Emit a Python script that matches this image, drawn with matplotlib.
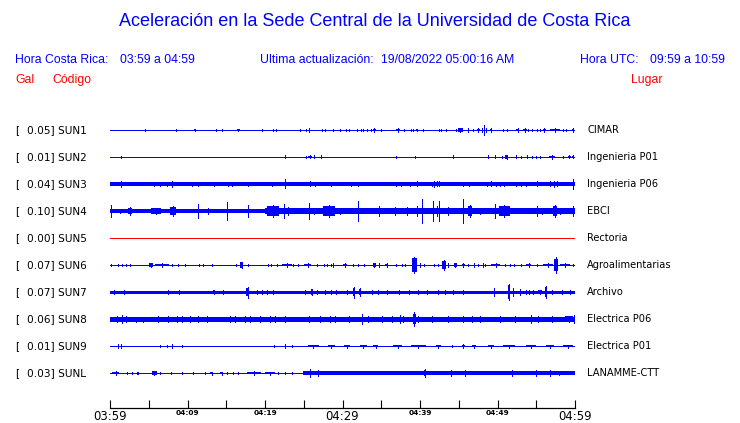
import matplotlib
matplotlib.use("Agg")
import matplotlib.pyplot as plt

# ---------------- data ----------------
stations = ["SUN1", "SUN2", "SUN3", "SUN4", "SUN5", "SUN6", "SUN7", "SUN8", "SUN9", "SUNL"]
gal_max = [0.05, 0.01, 0.04, 0.10, 0.00, 0.07, 0.07, 0.06, 0.01, 0.03]
places = ["CIMAR", "Ingenieria P01", "Ingenieria P06", "EBCI", "Rectoria",
          "Agroalimentarias", "Archivo", "Electrica P06", "Electrica P01", "LANAMME-CTT"]
tick_minutes = list(range(0, 61, 5))
tick_labels = ["03:59", "", "04:09", "", "04:19", "", "04:29", "", "04:39", "", "04:49", "", "04:59"]

# background band of each trace: (start minute, end minute, half amplitude)
base_sun1 = [(0, 60, 0.5)]
base_sun2 = [(0, 60, 0.5)]
base_sun3 = [(0, 60, 2.0)]
base_sun4 = [(0, 20, 1.2), (20, 60, 2.2)]
base_sun5 = [(0, 60, 0.5)]
base_sun6 = [(0, 60, 0.5)]
base_sun7 = [(0, 60, 1.4)]
base_sun8 = [(0, 60, 2.3)]
base_sun9 = [(0, 60, 0.5)]
base_sunl = [(0, 24.95, 0.5), (24.95, 60, 1.9)]

# events: (minute, half amplitude, duration in minutes; 0 = single spike)
ev_sun1 = [(4.47,1.3,0),(8.56,1.3,0),(10.97,1.3,0.3),(13.63,1.3,0),(14.49,1.3,0),(16.56,1.3,0.3),
           (19.66,1.0,0),(21.07,1.3,0),(21.46,1.3,0),(24.56,1.3,0),(25.33,1.0,0),(25.72,1.6,0),
           (27.31,1.0,0),(27.78,1.3,0),(28.77,1.3,0),(29.63,1.3,0),(30.41,1.0,0),(30.88,1.3,0),
           (31.91,0.8,0),(32.39,1.3,0),(32.69,1.3,0),(33.20,1.3,0),(33.63,1.3,0),(34.11,1.6,0.3),
           (34.92,1.0,0),(37.16,1.6,0.6),(37.94,1.0,0),(38.88,1.3,0),(39.14,1.3,0),(39.57,1.3,0.2),
           (40.39,1.3,0),(42.41,1.3,0),(42.71,1.3,0),(43.31,1.3,0),(44.60,1.3,0),(45.20,2.0,0.7),
           (46.24,1.6,0),(46.88,1.0,0),(47.53,1.8,0.4),(47.96,2.0,0),(48.30,5.3,0),(48.52,2.0,0),
           (49.16,1.6,0.3),(50.75,1.3,0),(51.18,1.3,0),(52.60,1.6,0.4),(53.55,1.6,0.4),(53.98,1.3,0),
           (54.41,1.3,0),(55.05,1.3,0),(55.48,1.0,0),(56.04,1.6,0.4),(57.42,1.7,1.3),(58.49,1.3,0),
           (58.80,1.0,0),(59.78,1.6,0.3)]
ev_sun2 = [(1.46,1.0,0),(22.54,1.5,0),(25.33,1.0,0),(25.85,1.5,0.5),(26.37,1.5,0),(27.18,1.5,0),
           (36.86,1.0,0),(39.31,1.0,0),(44.22,1.5,0),(48.82,1.5,0),(49.72,1.5,0),(50.54,1.0,0),
           (51.18,2.0,0.3),(52.39,1.5,0),(53.03,1.0,0),(53.76,1.5,0),(54.41,1.0,0),(54.92,1.0,0),
           (55.48,1.0,0),(57.03,1.8,0.7),(58.49,1.0,0),(59.27,1.5,0.3),(59.78,1.5,0.3)]
ev_sun3 = [(1.46,3.2,0),(5.72,2.0,0),(6.49,2.3,0),(7.31,2.3,0),(7.96,2.7,0),(10.62,2.0,0),
           (11.31,2.0,0),(13.42,2.0,0),(15.18,2.3,0),(15.78,2.0,0),(17.76,2.0,0),(20.86,2.3,0),
           (22.54,4.5,0),(25.76,2.5,0.3),(26.45,2.3,0),(28.47,2.3,0),(31.05,2.0,0),(32.04,2.3,0),
           (36.86,2.3,0),(37.51,2.3,0),(38.75,2.3,0),(39.66,2.5,0.3),(41.51,2.3,0),(41.76,3.0,0),
           (42.24,2.5,0),(42.49,2.5,0),(45.51,2.3,0),(46.37,2.3,0),(48.69,2.3,0),(49.12,2.5,0),
           (49.76,2.3,0),(50.37,2.3,0),(50.80,2.3,0),(52.34,2.3,0),(52.99,2.3,0),(53.64,2.3,0),
           (55.10,2.5,0.4),(56.82,2.5,0.2),(57.33,3.0,0.3),(57.63,2.5,0.2),(59.78,5.3,0)]
ev_sun4 = [(0.17,6.0,0),(0.86,1.5,0),(1.33,1.7,0),(2.58,4.0,0.43),(4.09,1.5,0.52),(5.89,3.3,1.29),
           (8.13,5.0,0.65),(10.11,1.0,0),(11.40,7.3,0),(12.65,2.7,1.08),(14.19,1.5,0),(15.14,9.0,0),
           (17.76,6.0,0),(19.23,1.5,0.65),(21.07,5.7,1.5),(22.41,7.3,0),(23.01,4.3,0),(24.30,1.0,0),
           (25.16,1.0,0),(25.72,8.3,0),(26.28,3.3,0.35),(28.26,5.7,1.5),(29.68,3.3,0),(32.04,10.0,0),
           (32.99,2.0,0.65),(34.71,5.3,0),(36.73,4.0,0),(37.20,1.5,0),(38.28,4.3,0.86),(39.57,5.0,0),
           (40.30,12.0,0),(41.72,10.0,0),(42.15,5.0,0),(42.49,10.0,0),(43.66,4.3,0.43),(44.73,1.0,0),
           (45.51,12.0,0),(46.41,5.7,0.5),(47.74,2.7,0),(49.68,6.7,0),(50.88,5.7,1.5),(54.06,2.3,0.65),
           (55.05,4.7,0),(55.70,2.7,0),(57.42,5.7,0.43),(58.06,3.3,0),(59.78,5.0,0)]
ev_sun5 = []
ev_sun6 = [(0.13,1.0,0),(1.08,1.0,0),(1.51,1.0,0),(2.06,1.0,0),(2.58,1.0,0),(5.29,2.3,0.43),
           (6.71,1.7,1.7),(7.96,1.3,0),(8.82,1.3,0),(9.68,1.3,0),(11.48,1.3,0),(12.04,1.3,0),
           (13.12,1.0,0),(16.26,1.0,0),(16.99,3.3,0.4),(17.76,1.3,0),(20.43,0.8,0),(20.77,0.8,0),
           (21.51,1.0,0),(22.80,1.7,1.29),(23.66,1.3,0),(24.30,1.3,0),(25.51,1.7,0.86),(26.71,1.3,0),
           (27.61,1.3,0),(28.04,1.3,0),(28.52,1.3,0),(28.82,2.0,0),(30.32,1.7,0.6),(31.40,1.0,0),
           (32.04,1.3,0),(32.77,1.3,0),(34.11,2.0,0.43),(34.71,2.0,0),(35.70,1.7,0.43),(36.86,1.0,0),
           (37.63,1.0,0),(38.06,1.3,0),(39.27,8.3,0.6),(40.00,2.0,0),(40.56,1.3,0),(41.81,1.0,0),
           (42.37,1.3,0),(43.10,4.7,0.5),(43.66,1.7,0),(44.56,2.0,0.35),(45.59,1.7,0.43),(46.24,1.0,0),
           (47.01,1.7,0),(47.53,1.3,0),(48.09,2.0,0),(48.39,1.3,0),(49.76,1.7,1.1),(50.97,1.3,0),
           (51.61,1.3,0),(52.17,1.3,0),(53.03,1.3,0),(54.06,1.7,0.65),(55.05,1.3,0),(56.56,1.7,1.29),
           (57.51,8.0,0.5),(58.71,1.7,1.29),(59.78,1.0,0)]
ev_sun7 = [(0.47,1.7,1.0),(1.85,2.0,0.2),(7.44,1.7,1.1),(8.90,1.7,0),(12.17,1.3,0),(13.38,2.3,0.2),
           (14.62,2.0,0.2),(17.76,5.5,0.3),(18.92,1.7,0),(19.57,1.7,0),(20.22,1.7,0),(20.99,2.0,0),
           (25.16,1.7,0),(26.06,3.3,0.3),(26.75,1.7,0),(27.74,1.7,0),(28.52,1.7,0),(29.12,1.7,0),
           (29.89,1.3,0),(30.54,1.7,0),(31.48,5.5,0.3),(32.26,4.0,0.3),(33.76,1.7,0),(34.62,2.0,0),
           (35.70,1.7,0),(37.29,2.3,0),(38.62,2.0,0),(39.78,1.7,0),(40.95,2.0,0),(42.37,1.7,0),
           (43.23,1.7,0),(44.30,1.7,0),(45.51,2.0,0),(49.59,4.0,0),(51.48,8.3,0.3),(52.04,4.0,0.2),
           (52.90,3.3,0),(53.64,2.0,0),(54.06,2.3,0),(54.62,2.0,0),(55.53,2.3,0.5),(56.26,5.7,0.3),
           (56.99,2.0,0),(58.28,2.0,0),(59.35,2.3,0)]
ev_sun8 = [(0.9,2.6,0.8),(1.51,4.2,0),(2.0,2.6,0.9),(3.3,2.5,0.8),(4.30,2.5,0),(6.24,2.8,0),
           (7.53,2.8,0),(8.60,2.8,0),(9.25,2.8,0),(10.32,3.3,0),(11.40,2.8,0),(12.47,2.8,0),
           (15.48,2.8,0),(16.13,2.8,0),(17.42,2.8,0),(18.06,2.8,0),(19.35,2.8,0),(20.64,2.8,0),
           (21.29,2.8,0),(22.58,2.8,0),(25.68,3.0,1.1),(27.10,2.8,0),(28.39,2.8,0),(29.03,2.8,0),
           (30.84,2.7,1.0),(32.47,5.2,0),(33.33,2.7,0.86),(35.05,2.8,0),(36.34,2.8,0),(37.42,4.3,0),
           (37.85,2.8,0),(39.27,6.8,0.3),(39.78,3.3,0),(41.51,2.7,1.7),(43.66,2.8,0.86),(45.59,2.8,0),
           (46.67,2.8,0),(47.74,2.8,0),(50.32,2.8,1.3),(52.26,2.7,2.5),(54.32,4.0,0),(55.27,2.8,0),
           (56.99,2.8,0),(59.23,3.3,1.0),(59.91,4.0,0)]
ev_sun9 = [(0.99,1.7,0),(1.42,1.7,0),(6.45,1.3,0),(7.31,1.3,0),(7.96,1.7,0),(9.25,1.3,0),
           (21.20,1.3,0),(22.58,1.7,0),(23.44,1.3,0),(26.24,1.5,1.4),(28.52,1.5,0.9),(30.62,1.5,0.8),
           (32.69,1.5,0.9),(34.28,1.5,0.6),(37.12,1.5,1.1),(39.78,1.5,2.0),(42.37,1.5,0.6),(44.09,1.3,0),
           (45.59,1.7,0.4),(47.01,1.5,0.5),(49.12,1.5,0.8),(51.48,1.5,1.6),(54.32,1.5,1.4),(56.77,1.5,1.0),
           (59.14,1.5,1.3)]
ev_sunl = [(0.73,1.7,0.9),(2.15,1.3,0),(2.80,1.3,0),(3.44,1.3,0),(3.66,1.3,0),(5.72,2.0,0.6),
           (6.49,1.3,0),(7.83,1.3,0),(9.25,1.3,0),(10.75,1.3,0),(12.26,1.3,0),(13.12,1.5,0.4),
           (14.41,1.5,0.4),(15.05,1.3,0),(15.91,1.3,0),(16.56,1.3,0),(18.58,1.7,1.9),(20.64,1.5,1.2),
           (21.72,1.3,0),(22.58,1.3,0),(23.44,1.3,0),(25.81,4.0,0),(26.88,2.7,0.6),(40.65,4.2,0.3),
           (43.96,2.7,0),(45.81,2.7,0),(51.83,2.7,0.8),(54.92,2.7,0),(56.77,2.7,0),(57.94,2.3,0)]

bases = [base_sun1, base_sun2, base_sun3, base_sun4, base_sun5,
         base_sun6, base_sun7, base_sun8, base_sun9, base_sunl]
events = [ev_sun1, ev_sun2, ev_sun3, ev_sun4, ev_sun5,
          ev_sun6, ev_sun7, ev_sun8, ev_sun9, ev_sunl]

# ---------------- figure ----------------
W, H = 740, 423
BLUE = "#0000ff"
RED = "#ff0000"
SPACING = 27.0  # amplitude units per trace slot

fig = plt.figure(figsize=(W / 100, H / 100), dpi=100)
fig.patch.set_facecolor("white")

ax_left, ax_right = 110 / W, 575 / W
ax_bottom_px, ax_top_px = 408, 115
ax = fig.add_axes([ax_left, (H - ax_bottom_px) / H, ax_right - ax_left,
                   (ax_bottom_px - ax_top_px) / H])
ax.set_xlim(0, 60)
first_px = 130
ax.set_ylim((ax_bottom_px - first_px) / SPACING, (ax_top_px - first_px) / SPACING)

for i, (segs, evs) in enumerate(zip(bases, events)):
    col = RED if stations[i] == "SUN5" else BLUE
    for s, e, h in segs:
        ax.hlines(i, s, e, colors=col, linewidth=max(2 * h, 1.0) * 0.72,
                  capstyle="butt", antialiased=False)
    for t, h, w in evs:
        a = h / SPACING
        if w <= 0.15:
            ax.vlines(t, i - a, i + a, colors=col, linewidth=0.72, antialiased=False)
        else:
            b = 0.8 * a
            ax.bar(t, 2 * b, bottom=i - b, width=w, color=col, linewidth=0,
                   align="center", antialiased=False)
            ax.vlines(t, i - a, i + a, colors=col, linewidth=0.72, antialiased=False)

for sp in ["left", "right", "top"]:
    ax.spines[sp].set_visible(False)
ax.spines["bottom"].set_linewidth(0.9)
ax.set_yticks([])
ax.set_xticks(tick_minutes)
ax.set_xticklabels(tick_labels)
ax.tick_params(axis="x", direction="in", length=6, width=0.8, pad=1.5, colors="black")
big = {"03:59", "04:29", "04:59"}
for lab in ax.get_xticklabels():
    lab.set_fontfamily("DejaVu Sans")
    if lab.get_text() in big:
        lab.set_fontsize(8.4)
    else:
        lab.set_fontsize(5.3)
        lab.set_fontweight("bold")

# ---------------- texts ----------------
def ftext(x, y, s, **kw):
    fig.text(x / W, 1 - y / H, s, va="center", **kw)

hdr = dict(family="Liberation Sans", fontsize=8.8)
ftext(375, 22, "Aceleración en la Sede Central de la Universidad de Costa Rica",
      ha="center", color=BLUE, family="Liberation Sans", fontsize=13)
ftext(15, 60, "Hora Costa Rica:", ha="left", color=BLUE, **hdr)
ftext(120, 60, "03:59 a 04:59", ha="left", color=BLUE, **hdr)
ftext(260, 60, "Ultima actualización:", ha="left", color=BLUE, **hdr)
ftext(381, 60, "19/08/2022 05:00:16 AM", ha="left", color=BLUE, **hdr)
ftext(580, 60, "Hora UTC:", ha="left", color=BLUE, **hdr)
ftext(725, 60, "09:59 a 10:59", ha="right", color=BLUE, **hdr)
ftext(15, 80, "Gal", ha="left", color=RED, **hdr)
ftext(52, 80, "Código", ha="left", color=RED, **hdr)
ftext(662, 80, "Lugar", ha="right", color=RED, **hdr)

for i in range(len(stations)):
    y = first_px + SPACING * i
    ftext(15, y, "[", ha="left", color="black", family="DejaVu Sans", fontsize=7.6)
    ftext(27, y, f"{gal_max[i]:.2f}] {stations[i]}", ha="left", color="black",
          family="DejaVu Sans", fontsize=7.6)
    ftext(587, y, places[i], ha="left", color="black", family="DejaVu Sans", fontsize=7.1)

fig.savefig("out.png", dpi=100, facecolor="white")
